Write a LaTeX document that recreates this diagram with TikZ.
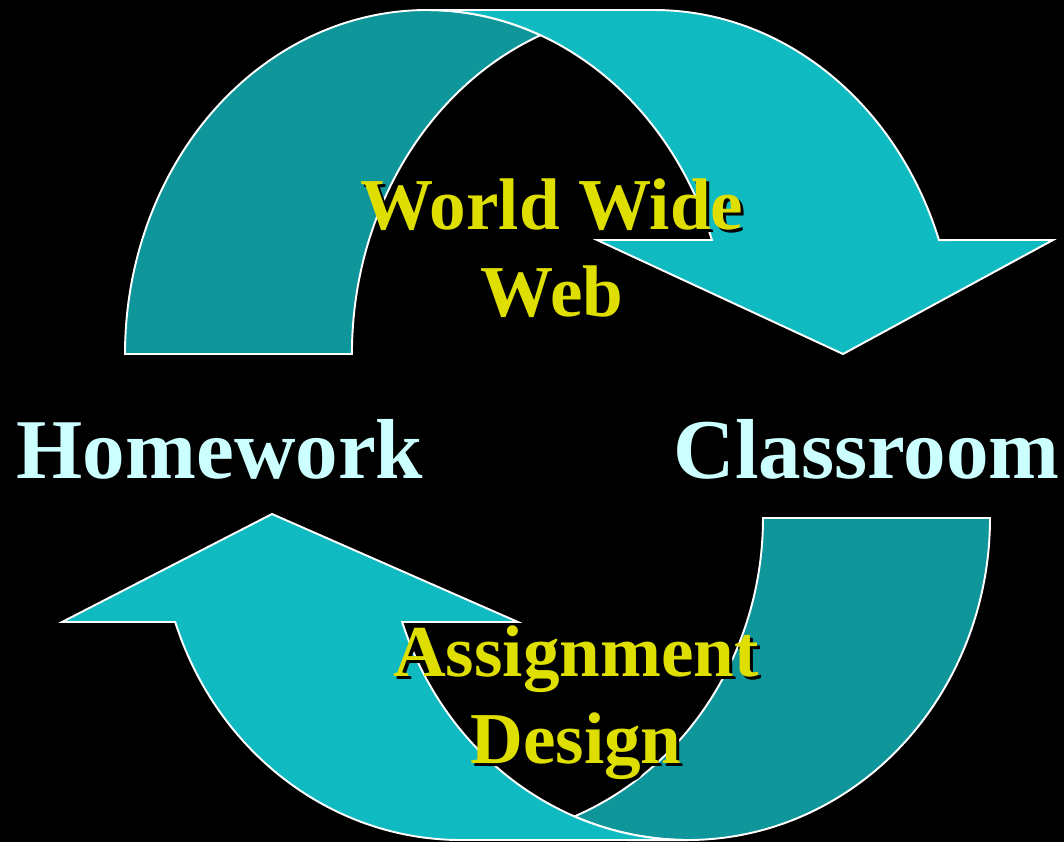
\documentclass[tikz,border=0pt]{standalone}
\usepackage{fontspec}
\setmainfont{Liberation Serif}

\definecolor{tealdark}{RGB}{14,150,155}
\definecolor{teallight}{RGB}{16,186,193}
\definecolor{webyellow}{RGB}{222,222,0}
\definecolor{paleblue}{RGB}{204,255,255}

\begin{document}
\begin{tikzpicture}[x=0.01cm, y=-0.01cm,
  back/.style={fill=tealdark, draw=white, line width=0.55pt},
  front/.style={fill=teallight, draw=white, line width=0.55pt},
  place/.style={text=paleblue, font=\fontsize{24.2}{29}\selectfont\bfseries, inner sep=0pt},
  topic/.style={text=webyellow, font=\fontsize{20.8}{24.5}\selectfont\bfseries, align=center, inner sep=0pt, anchor=base}]

\fill[black] (0,0) rectangle (1064,842);
\useasboundingbox (0,0) rectangle (1064,842);

% upper arrow, back half then front half
\draw[back] (125,354) arc[start angle=180, end angle=292.07, x radius=302, y radius=344]
  arc[start angle=247.93, end angle=180, x radius=302, y radius=344] -- cycle;
\draw[front] (843,354) -- (597,240) -- (711.9,240)
  arc[start angle=340.65, end angle=270, x radius=302, y radius=344] -- (654,10)
  arc[start angle=270, end angle=340.65, x radius=302, y radius=344] -- (1053,240) -- cycle;

% lower arrow
\draw[back] (990,518) arc[start angle=0, end angle=112.08, x radius=302, y radius=322]
  arc[start angle=67.92, end angle=0, x radius=302, y radius=322] -- cycle;
\draw[front] (272,514) -- (518,622) -- (402.2,622)
  arc[start angle=161.16, end angle=90, x radius=302, y radius=322] -- (461,840)
  arc[start angle=90, end angle=161.16, x radius=302, y radius=322] -- (62,622) -- cycle;

% labels (base anchor sits on the last line)
\node[place, anchor=base west] (home) at (16,478) {Homework};
\node[place, anchor=base west] (class) at (673,478) {Classroom};

\node[topic, text=black] (wwwshade) at (555,319) {World Wide\\Web};
\node[topic] (www) at (552,316) {World Wide\\Web};

\node[topic, text=black] (designshade) at (579,766) {Assignment\\Design};
\node[topic] (design) at (576,763) {Assignment\\Design};
\end{tikzpicture}
\end{document}
